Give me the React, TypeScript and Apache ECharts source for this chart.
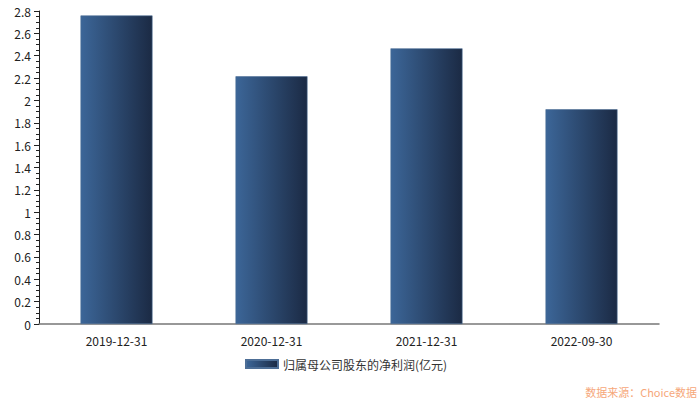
import React, { useEffect, useRef } from "react";
import * as echarts from "echarts";

const categories = ["2019-12-31", "2020-12-31", "2021-12-31", "2022-09-30"];
const values = [2.76, 2.216, 2.466, 1.921];
const seriesName = "归属母公司股东的净利润(亿元)";
const sourceText = "数据来源：Choice数据";

export default function App() {
  const ref = useRef<HTMLDivElement>(null);
  useEffect(() => {
    const chart = echarts.init(ref.current!, null, { renderer: "svg" });
    const grad = new echarts.graphic.LinearGradient(0, 0, 1, 0, [
      { offset: 0, color: "#3c6698" },
      { offset: 1, color: "#1b2a44" },
    ]);
    const font = "'Microsoft YaHei', 'Noto Sans CJK SC', Arial, sans-serif";
    chart.setOption({
      animation: false,
      textStyle: { fontFamily: font },
      grid: { left: 39, right: 41, top: 11, bottom: 76, containLabel: false },
      legend: {
        data: [{ name: seriesName, itemStyle: { color: grad } }],
        bottom: 25,
        left: 240,
        itemWidth: 32,
        itemHeight: 8,
        itemGap: 10,
        icon: "rect",
        textStyle: { fontSize: 12, color: "#333", fontFamily: font },
      },
      xAxis: {
        type: "category",
        data: categories,
        axisLine: { lineStyle: { color: "#777", width: 1.5 } },
        axisTick: { alignWithLabel: true, length: 5, lineStyle: { color: "#222" } },
        axisLabel: { fontSize: 12, color: "#222", margin: 10 },
      },
      yAxis: {
        type: "value",
        min: 0,
        max: 2.8,
        interval: 0.2,
        axisLine: { show: true, lineStyle: { color: "#222" } },
        axisTick: { show: true, length: 5, lineStyle: { color: "#222" } },
        minorTick: { show: true, splitNumber: 4, length: 3, lineStyle: { color: "#222" } },
        splitLine: { show: false },
        axisLabel: { fontSize: 12, color: "#222", margin: 8 },
      },
      series: [
        {
          name: seriesName,
          type: "bar",
          data: values,
          barWidth: 72,
          itemStyle: { color: grad, borderColor: "#4d6e96", borderWidth: 0.6 },
        },
      ],
      graphic: [
        {
          type: "text",
          right: 3,
          bottom: 3,
          style: { text: sourceText, fill: "#f6a77a", fontSize: 11, fontFamily: font },
        },
      ],
    });
    return () => chart.dispose();
  }, []);
  return <div ref={ref} style={{ width: 700, height: 400, position: "absolute", left: 0, top: 0 }} />;
}
